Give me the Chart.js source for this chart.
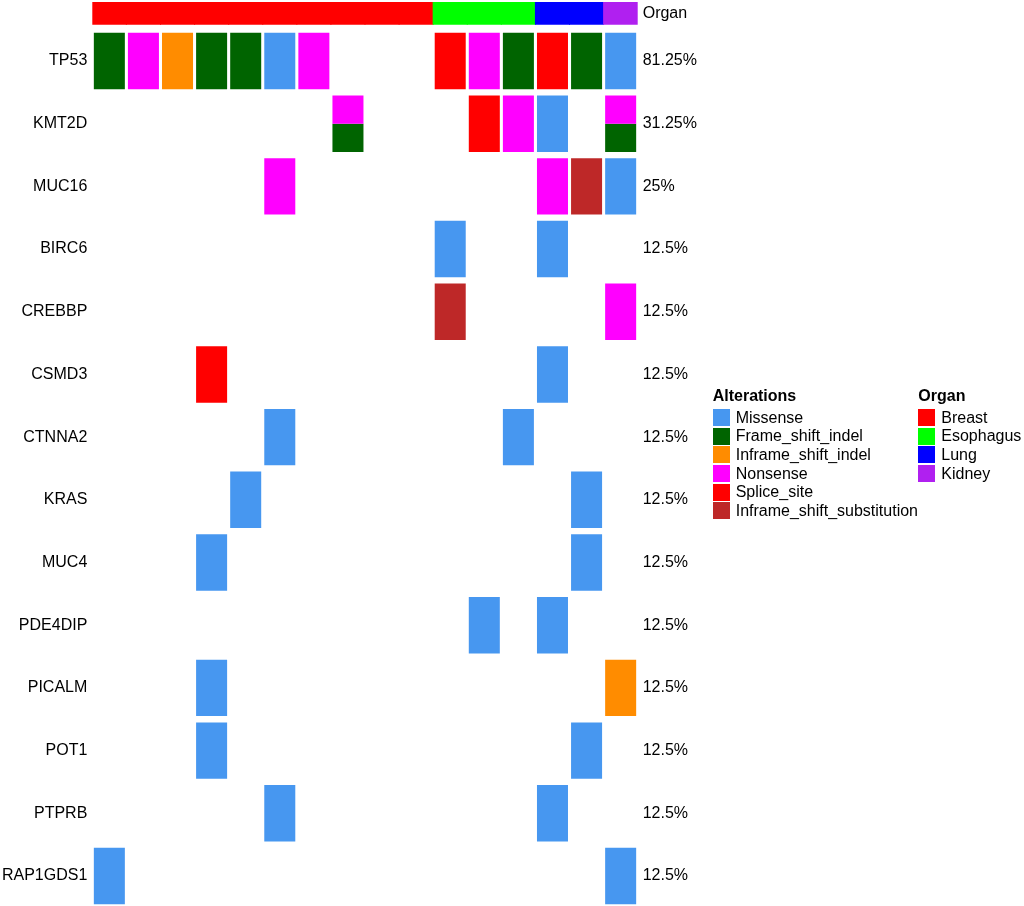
<!DOCTYPE html>
<html>
<head>
<meta charset="utf-8">
<title>Oncoprint</title>
<script src="https://cdn.jsdelivr.net/npm/chart.js@4.4.0/dist/chart.umd.min.js"></script>
<style>
  html, body { margin: 0; padding: 0; background: #fff; }
  #wrap { position: relative; width: 1024px; height: 906px; font-family: "Liberation Sans", Arial, sans-serif; color: #000; }
  #plot { position: absolute; left: 0; top: 0; width: 1024px; height: 906px; }
  .lg-title { position: absolute; font-weight: bold; font-size: 16px; line-height: 18px; white-space: nowrap; }
  .lg-item { position: absolute; height: 17px; display: flex; align-items: center; font-size: 16px; white-space: nowrap; }
  .lg-item .sw { width: 17px; height: 17px; margin-right: 6px; flex: none; }
</style>
</head>
<body>
<div id="wrap">
  <div id="plot"><canvas id="onco"></canvas></div>
  <div id="legend"></div>
</div>
<script>
// samples (columns) and their organ
const samples = ['S01', 'S02', 'S03', 'S04', 'S05', 'S06', 'S07', 'S08',
                 'S09', 'S10', 'S11', 'S12', 'S13', 'S14', 'S15', 'S16'];
const sampleOrgan = ['Breast', 'Breast', 'Breast', 'Breast', 'Breast', 'Breast', 'Breast', 'Breast',
                     'Breast', 'Breast', 'Esophagus', 'Esophagus', 'Esophagus', 'Lung', 'Lung', 'Kidney'];
const organs = ['Breast', 'Esophagus', 'Lung', 'Kidney'];

// genes (rows) and the percentage labels shown on the right
const genes = ['TP53', 'KMT2D', 'MUC16', 'BIRC6', 'CREBBP', 'CSMD3', 'CTNNA2',
               'KRAS', 'MUC4', 'PDE4DIP', 'PICALM', 'POT1', 'PTPRB', 'RAP1GDS1'];
const pctLabels = ['81.25%', '31.25%', '25%', '12.5%', '12.5%', '12.5%', '12.5%',
                   '12.5%', '12.5%', '12.5%', '12.5%', '12.5%', '12.5%', '12.5%'];

const alterations = ['Missense', 'Frame_shift_indel', 'Inframe_shift_indel',
                     'Nonsense', 'Splice_site', 'Inframe_shift_substitution'];
// short codes used in the gene rows below
const codes = { M: 'Missense', F: 'Frame_shift_indel', I: 'Inframe_shift_indel',
                N: 'Nonsense', S: 'Splice_site', X: 'Inframe_shift_substitution' };

// one entry per sample; '' = none, 'N/F' = two alterations (top / bottom)
const tp53     = ['F', 'N', 'I', 'F', 'F', 'M', 'N', '',    '', '', 'S', 'N', 'F', 'S', 'F', 'M'];
const kmt2d    = ['',  '',  '',  '',  '',  '',  '',  'N/F', '', '', '',  'S', 'N', 'M', '',  'N/F'];
const muc16    = ['',  '',  '',  '',  '',  'N', '',  '',    '', '', '',  '',  '',  'N', 'X', 'M'];
const birc6    = ['',  '',  '',  '',  '',  '',  '',  '',    '', '', 'M', '',  '',  'M', '',  ''];
const crebbp   = ['',  '',  '',  '',  '',  '',  '',  '',    '', '', 'X', '',  '',  '',  '',  'N'];
const csmd3    = ['',  '',  '',  'S', '',  '',  '',  '',    '', '', '',  '',  '',  'M', '',  ''];
const ctnna2   = ['',  '',  '',  '',  '',  'M', '',  '',    '', '', '',  '',  'M', '',  '',  ''];
const kras     = ['',  '',  '',  '',  'M', '',  '',  '',    '', '', '',  '',  '',  '',  'M', ''];
const muc4     = ['',  '',  '',  'M', '',  '',  '',  '',    '', '', '',  '',  '',  '',  'M', ''];
const pde4dip  = ['',  '',  '',  '',  '',  '',  '',  '',    '', '', '',  'M', '',  'M', '',  ''];
const picalm   = ['',  '',  '',  'M', '',  '',  '',  '',    '', '', '',  '',  '',  '',  '',  'I'];
const pot1     = ['',  '',  '',  'M', '',  '',  '',  '',    '', '', '',  '',  '',  '',  'M', ''];
const ptprb    = ['',  '',  '',  '',  '',  'M', '',  '',    '', '', '',  '',  '',  'M', '',  ''];
const rap1gds1 = ['M', '',  '',  '',  '',  '',  '',  '',    '', '', '',  '',  '',  '',  '',  'M'];
const geneRows = [tp53, kmt2d, muc16, birc6, crebbp, csmd3, ctnna2,
                  kras, muc4, pde4dip, picalm, pot1, ptprb, rap1gds1];

// colours
const alterColors = {
  Missense: '#4797F0', Frame_shift_indel: '#006400', Inframe_shift_indel: '#FF8C00',
  Nonsense: '#FF00FF', Splice_site: '#FF0000', Inframe_shift_substitution: '#BE2828'
};
const organColors = { Breast: '#FF0000', Esophagus: '#00FF00', Lung: '#0000FF', Kidney: '#B020F0' };

// layout in row units (1 = one gene row)
const FONT = '"Liberation Sans", Arial, sans-serif';
const CELL_HALF = 0.45;
const ORGAN_POS = -0.76;
const ORGAN_HALF = 0.18;
const Y_MIN = -0.973;
const Y_MAX = 13.479;
const tickValues = [ORGAN_POS].concat(genes.map((g, i) => i));

// build the datasets
const datasets = [];
datasets.push({
  label: 'Organ',
  data: sampleOrgan.map(() => [ORGAN_POS - ORGAN_HALF, ORGAN_POS + ORGAN_HALF]),
  backgroundColor: sampleOrgan.map(o => organColors[o]),
  barPercentage: 1.03
});

geneRows.forEach((row, i) => {
  const top = [], topCol = [], bottom = [], bottomCol = [];
  let hasSplit = false;
  row.forEach(cell => {
    const parts = cell ? cell.split('/').map(c => codes[c]) : [];
    if (parts.length === 2) {
      hasSplit = true;
      top.push([i - CELL_HALF, i]);
      topCol.push(alterColors[parts[0]]);
      bottom.push([i, i + CELL_HALF]);
      bottomCol.push(alterColors[parts[1]]);
    } else if (parts.length === 1) {
      top.push([i - CELL_HALF, i + CELL_HALF]);
      topCol.push(alterColors[parts[0]]);
      bottom.push(null);
      bottomCol.push(null);
    } else {
      top.push(null); topCol.push(null);
      bottom.push(null); bottomCol.push(null);
    }
  });
  datasets.push({ label: genes[i], data: top, backgroundColor: topCol });
  if (hasSplit) {
    datasets.push({ label: genes[i] + ' (2)', data: bottom, backgroundColor: bottomCol });
  }
});

const ctx = document.getElementById('onco').getContext('2d');
const oncoChart = new Chart(ctx, {
  type: 'bar',
  data: { labels: samples, datasets: datasets },
  options: {
    responsive: true,
    maintainAspectRatio: false,
    animation: false,
    layout: { padding: 0 },
    plugins: { legend: { display: false }, tooltip: { enabled: false } },
    datasets: {
      bar: { grouped: false, categoryPercentage: 1, barPercentage: 0.91, borderWidth: 0 }
    },
    scales: {
      x: { type: 'category', display: false, offset: true, grid: { display: false } },
      y: {
        type: 'linear', position: 'left', reverse: true, min: Y_MIN, max: Y_MAX, bounds: 'data',
        grid: { display: false, drawTicks: false }, border: { display: false },
        ticks: {
          autoSkip: false, padding: 5, color: '#000', font: { family: FONT, size: 16 },
          callback: (v, idx) => idx === 0 ? '' : genes[idx - 1]
        },
        afterBuildTicks: s => { s.ticks = tickValues.map(v => ({ value: v })); },
        afterFit: s => { s.width = 92.3; s.paddingTop = 0; s.paddingBottom = 0; }
      },
      y2: {
        type: 'linear', position: 'right', reverse: true, min: Y_MIN, max: Y_MAX, bounds: 'data',
        grid: { display: false, drawTicks: false }, border: { display: false },
        ticks: {
          autoSkip: false, padding: 5, color: '#000', font: { family: FONT, size: 16 },
          callback: (v, idx) => idx === 0 ? 'Organ' : pctLabels[idx - 1]
        },
        afterBuildTicks: s => { s.ticks = tickValues.map(v => ({ value: v })); },
        afterFit: s => { s.width = 1024 - 637.7; s.paddingTop = 0; s.paddingBottom = 0; }
      }
    }
  }
});

// html legend (two columns)
function addLegend(title, names, colors, left) {
  const box = document.getElementById('legend');
  const t = document.createElement('div');
  t.className = 'lg-title';
  t.style.left = left + 'px';
  t.style.top = '386.5px';
  t.textContent = title;
  box.appendChild(t);
  names.forEach((n, k) => {
    const item = document.createElement('div');
    item.className = 'lg-item';
    item.style.left = left + 'px';
    item.style.top = (409 + k * 18.67) + 'px';
    const sw = document.createElement('span');
    sw.className = 'sw';
    sw.style.background = colors[n];
    item.appendChild(sw);
    item.appendChild(document.createTextNode(n));
    box.appendChild(item);
  });
}
addLegend('Alterations', alterations, alterColors, 712.7);
addLegend('Organ', organs, organColors, 918.3);
</script>
</body>
</html>
